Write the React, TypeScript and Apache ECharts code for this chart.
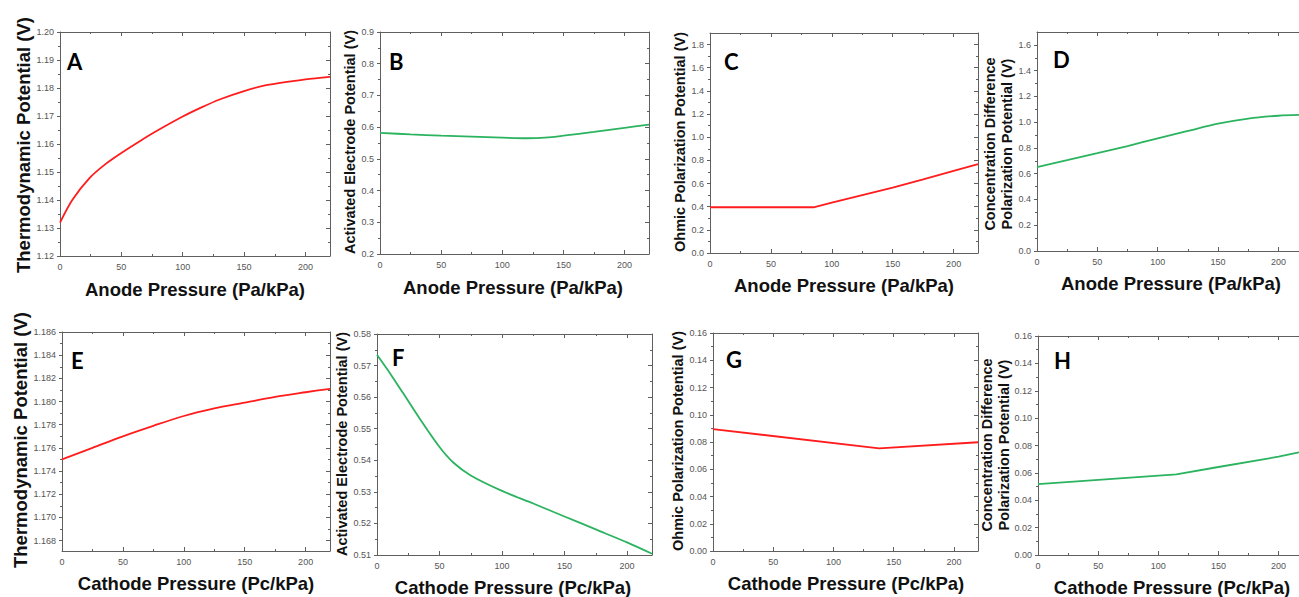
import React, { useEffect, useRef } from 'react';
import * as echarts from 'echarts';

// ---------- data ----------
const xA = [0, 10, 24, 37, 50, 65, 79, 100, 114, 130, 150, 168, 200, 220];
const thermoAnode = [1.1319, 1.14, 1.1478, 1.1528, 1.1568, 1.161, 1.1647, 1.1698, 1.1728, 1.1759, 1.1789, 1.181, 1.1831, 1.184];

const xB = [0, 25, 50, 75, 100, 120, 135, 150, 175, 200, 220];
const activAnode = [0.582, 0.577, 0.573, 0.57, 0.567, 0.565, 0.567, 0.573, 0.585, 0.598, 0.608];

const xC = [0, 85, 100, 125, 150, 175, 200, 220];
const ohmicAnode = [0.395, 0.395, 0.435, 0.5, 0.565, 0.635, 0.71, 0.768];

const xD = [0, 25, 50, 75, 100, 125, 150, 175, 200, 217];
const concAnode = [0.652, 0.705, 0.759, 0.815, 0.875, 0.932, 0.988, 1.028, 1.05, 1.056];

const xE = [0, 25, 50, 75, 100, 125, 150, 175, 200, 220];
const thermoCathode = [1.175, 1.176, 1.177, 1.1779, 1.17875, 1.1794, 1.1799, 1.1804, 1.1808, 1.1811];

const xF = [0, 11, 21, 35, 50, 61, 75, 100, 125, 150, 175, 200, 220];
const activCathode = [0.5734, 0.5672, 0.5612, 0.5527, 0.5442, 0.5393, 0.5352, 0.5303, 0.5263, 0.5222, 0.5181, 0.514, 0.5104];

const xG = [0, 138, 220];
const ohmicCathode = [0.0895, 0.0753, 0.0798];

const xH = [0, 115, 150, 200, 217];
const concCathode = [0.0518, 0.0589, 0.0643, 0.0718, 0.075];

// tick labels
const xTicks = [0, 50, 100, 150, 200];
const xMinorTicks = [25, 75, 125, 175];
const yTicksA = [1.12, 1.13, 1.14, 1.15, 1.16, 1.17, 1.18, 1.19, 1.2];
const yTicksB = [0.2, 0.3, 0.4, 0.5, 0.6, 0.7, 0.8, 0.9];
const yTicksC = [0, 0.2, 0.4, 0.6, 0.8, 1.0, 1.2, 1.4, 1.6, 1.8];
const yTicksD = [0, 0.2, 0.4, 0.6, 0.8, 1.0, 1.2, 1.4, 1.6];
const yTicksE = [1.168, 1.17, 1.172, 1.174, 1.176, 1.178, 1.18, 1.182, 1.184, 1.186];
const yTicksF = [0.51, 0.52, 0.53, 0.54, 0.55, 0.56, 0.57, 0.58];
const yTicksG = [0, 0.02, 0.04, 0.06, 0.08, 0.1, 0.12, 0.14, 0.16];
const yTicksH = [0, 0.02, 0.04, 0.06, 0.08, 0.1, 0.12, 0.14, 0.16];

const anodeTitle = 'Anode Pressure (Pa/kPa)';
const cathodeTitle = 'Cathode Pressure (Pc/kPa)';

const RED = '#ff1c1c';
const GREEN = '#2bb35f';
const AXIS = '#5f5f5f';
const LABEL = '#555555';

type Panel = {
  letter: string;
  box: [number, number, number, number];
  xMax: number;
  yMin: number;
  yMax: number;
  yTicks: number[];
  dec: number;
  xs: number[];
  ys: number[];
  color: string;
  smooth: boolean;
  xTitle: string;
  xTitlePos: [number, number];
  yTitle: string;
  yTitlePos: [number, number];
  letterPos: [number, number];
  right: boolean;
};

const panels: Panel[] = [
  { letter: 'A', box: [60, 32, 270, 224], xMax: 220, yMin: 1.12, yMax: 1.2, yTicks: yTicksA, dec: 2, xs: xA, ys: thermoAnode, color: RED, smooth: true,
    xTitle: anodeTitle, xTitlePos: [195, 289], yTitle: 'Thermodynamic Potential (V)', yTitlePos: [23, 145], letterPos: [67, 61], right: true },
  { letter: 'B', box: [380, 32, 269, 222], xMax: 220, yMin: 0.2, yMax: 0.9, yTicks: yTicksB, dec: 1, xs: xB, ys: activAnode, color: GREEN, smooth: true,
    xTitle: anodeTitle, xTitlePos: [513, 287], yTitle: 'Activated Electrode Potential (V)', yTitlePos: [350, 142], letterPos: [389, 61], right: true },
  { letter: 'C', box: [710, 33, 268, 220], xMax: 220, yMin: 0, yMax: 1.9, yTicks: yTicksC, dec: 1, xs: xC, ys: ohmicAnode, color: RED, smooth: false,
    xTitle: anodeTitle, xTitlePos: [844, 285], yTitle: 'Ohmic Polarization Potential (V)', yTitlePos: [680, 142], letterPos: [724, 61], right: true },
  { letter: 'D', box: [1037, 32, 262, 219], xMax: 217, yMin: 0, yMax: 1.7, yTicks: yTicksD, dec: 1, xs: xD, ys: concAnode, color: GREEN, smooth: true,
    xTitle: anodeTitle, xTitlePos: [1171, 283], yTitle: 'Concentration Difference\nPolarization Potential (V)', yTitlePos: [998, 144], letterPos: [1053, 59], right: false },
  { letter: 'E', box: [62, 332, 268, 219], xMax: 220, yMin: 1.1671, yMax: 1.186, yTicks: yTicksE, dec: 3, xs: xE, ys: thermoCathode, color: RED, smooth: true,
    xTitle: cathodeTitle, xTitlePos: [196, 583], yTitle: 'Thermodynamic Potential (V)', yTitlePos: [20, 440], letterPos: [71, 360], right: true },
  { letter: 'F', box: [377, 334, 275, 221], xMax: 220, yMin: 0.51, yMax: 0.58, yTicks: yTicksF, dec: 2, xs: xF, ys: activCathode, color: GREEN, smooth: true,
    xTitle: cathodeTitle, xTitlePos: [513, 587], yTitle: 'Activated Electrode Potential (V)', yTitlePos: [342, 444], letterPos: [392, 357], right: true },
  { letter: 'G', box: [713, 333, 265, 218], xMax: 220, yMin: 0, yMax: 0.16, yTicks: yTicksG, dec: 2, xs: xG, ys: ohmicCathode, color: RED, smooth: false,
    xTitle: cathodeTitle, xTitlePos: [846, 583], yTitle: 'Ohmic Polarization Potential (V)', yTitlePos: [678, 441], letterPos: [726, 359], right: true },
  { letter: 'H', box: [1038, 336, 261, 219], xMax: 217, yMin: 0, yMax: 0.16, yTicks: yTicksH, dec: 2, xs: xH, ys: concCathode, color: GREEN, smooth: false,
    xTitle: cathodeTitle, xTitlePos: [1172, 587], yTitle: 'Concentration Difference\nPolarization Potential (V)', yTitlePos: [995, 445], letterPos: [1054, 360], right: false },
];

function minorOf(ticks: number[], min: number, max: number): number[] {
  const out: number[] = [];
  const step = ticks[1] - ticks[0];
  const cands = [ticks[0] - step / 2];
  for (let i = 0; i < ticks.length; i++) cands.push(ticks[i] + step / 2);
  cands.forEach((v) => {
    const r = Number(v.toFixed(6));
    if (r > min + 1e-9 && r < max - 1e-9) out.push(r);
  });
  return out;
}

function buildOption() {
  const grid: any[] = [];
  const xAxis: any[] = [];
  const yAxis: any[] = [];
  const series: any[] = [];
  const graphic: any[] = [];
  const lineOn = { show: true, onZero: false, lineStyle: { color: AXIS, width: 1 } };
  const lineOff = { show: false, onZero: false };
  const tickStyle = { color: AXIS, width: 1 };

  panels.forEach((p, i) => {
    grid.push({ left: p.box[0], top: p.box[1], width: p.box[2], height: p.box[3] });
    const xb = xAxis.length;
    const yb = yAxis.length;
    const xc = { gridIndex: i, type: 'value', min: 0, max: p.xMax, splitLine: { show: false } };
    xAxis.push({ ...xc, position: 'bottom', axisLine: lineOn,
      axisTick: { show: true, inside: true, length: 4, customValues: xTicks, lineStyle: tickStyle },
      axisLabel: { show: true, customValues: xTicks, margin: 6, fontSize: 9, color: LABEL, fontFamily: 'Liberation Sans' } });
    xAxis.push({ ...xc, position: 'bottom', axisLine: lineOff,
      axisTick: { show: true, inside: true, length: 2, customValues: xMinorTicks, lineStyle: tickStyle }, axisLabel: { show: false } });
    xAxis.push({ ...xc, position: 'top', axisLine: lineOn,
      axisTick: { show: true, inside: true, length: 4, customValues: xTicks, lineStyle: tickStyle }, axisLabel: { show: false } });
    xAxis.push({ ...xc, position: 'top', axisLine: lineOff,
      axisTick: { show: true, inside: true, length: 2, customValues: xMinorTicks, lineStyle: tickStyle }, axisLabel: { show: false } });

    const yMinor = minorOf(p.yTicks, p.yMin, p.yMax);
    const yc = { gridIndex: i, type: 'value', min: p.yMin, max: p.yMax, splitLine: { show: false } };
    yAxis.push({ ...yc, position: 'left', axisLine: lineOn,
      axisTick: { show: true, inside: false, length: 3, customValues: p.yTicks, lineStyle: tickStyle },
      axisLabel: { show: true, customValues: p.yTicks, margin: 6, fontSize: 9, color: LABEL, fontFamily: 'Liberation Sans',
        formatter: (v: number) => Number(v).toFixed(p.dec) } });
    yAxis.push({ ...yc, position: 'left', axisLine: lineOff,
      axisTick: { show: true, inside: false, length: 2, customValues: yMinor, lineStyle: tickStyle }, axisLabel: { show: false } });
    if (p.right) {
      yAxis.push({ ...yc, position: 'right', axisLine: lineOn,
        axisTick: { show: true, inside: true, length: 4, customValues: p.yTicks, lineStyle: tickStyle }, axisLabel: { show: false } });
      yAxis.push({ ...yc, position: 'right', axisLine: lineOff,
        axisTick: { show: true, inside: true, length: 2, customValues: yMinor, lineStyle: tickStyle }, axisLabel: { show: false } });
    }

    series.push({
      type: 'line', xAxisIndex: xb, yAxisIndex: yb,
      data: p.xs.map((x, k) => [x, p.ys[k]]),
      showSymbol: false, symbol: 'none', smooth: p.smooth ? 0.3 : false,
      lineStyle: { color: p.color, width: 1.8 }, itemStyle: { color: p.color }, silent: true, clip: true,
    });

    graphic.push({
      type: 'text', x: p.letterPos[0], y: p.letterPos[1],
      style: { text: p.letter, font: 'bold 22px Lato, "Open Sans", sans-serif', fill: '#000', align: 'left', verticalAlign: 'middle' },
    });
    graphic.push({
      type: 'text', x: p.xTitlePos[0], y: p.xTitlePos[1],
      style: { text: p.xTitle, font: 'bold 18.5px "Liberation Sans", Arial, sans-serif', fill: '#111', align: 'center', verticalAlign: 'middle' },
    });
    const small = p.yTitle.length > 28;
    graphic.push({
      type: 'text', x: p.yTitlePos[0], y: p.yTitlePos[1], rotation: Math.PI / 2,
      style: {
        text: p.yTitle,
        font: `bold ${small ? 14.5 : 18.5}px "Liberation Sans", Arial, sans-serif`,
        lineHeight: 17, fill: '#111', align: 'center', verticalAlign: 'middle',
      },
    });
  });

  return {
    animation: false,
    backgroundColor: '#ffffff',
    textStyle: { fontFamily: '"Liberation Sans", Arial, sans-serif' },
    grid, xAxis, yAxis, series, graphic,
  };
}

export default function App() {
  const ref = useRef<HTMLDivElement>(null);
  useEffect(() => {
    if (!ref.current) return;
    const chart = echarts.init(ref.current, undefined, { renderer: 'svg' });
    chart.setOption(buildOption() as any);
    return () => chart.dispose();
  }, []);
  return <div ref={ref} style={{ position: 'fixed', left: 0, top: 0, width: 1299, height: 597, background: '#fff' }} />;
}
